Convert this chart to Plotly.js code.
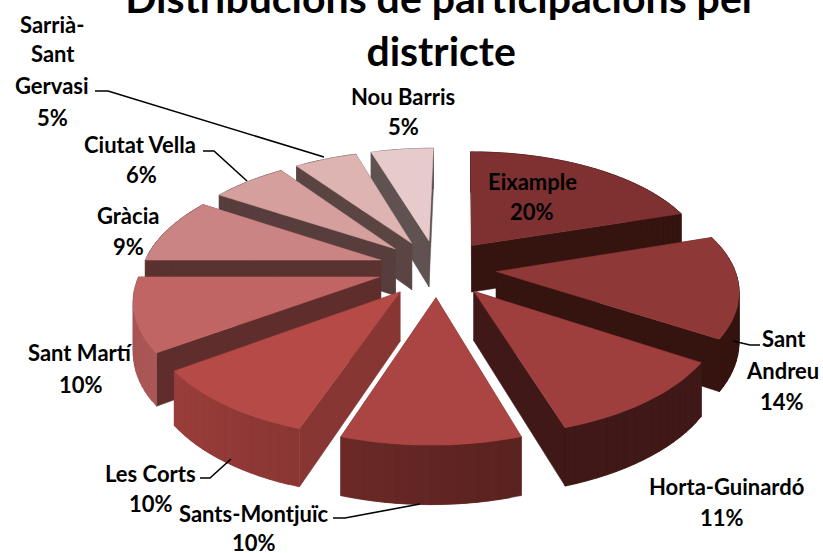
<!DOCTYPE html>
<html><head><meta charset="utf-8">
<script src="https://cdn.plot.ly/plotly-3.0.1.min.js"></script>
<style>html,body{margin:0;padding:0;background:#fff}</style></head>
<body><div id="chart" style="width:823px;height:553px"></div>
<script>
const districts=["Eixample","Sant Andreu","Horta-Guinardó","Sants-Montjuïc","Les Corts","Sant Martí","Gràcia","Ciutat Vella","Sarrià-Sant Gervasi","Nou Barris"];
const shares=[20,14,11,10,10,10,9,6,5,5];
const topColors=["#7f3031","#8f3838","#9e3f3e","#aa4543","#b54a47","#c16564","#cb8484","#d49f9d","#deb4b2","#e7caca"];
const wallColors=["#35130f","#35140f","#3f1817","#6e2a28","#873633","#5f2e2c","#5a3331","#573e3c","#5a4543","#5f5250"];
const arcFrom=["#35130f","#35140f","#3f1817","#5a2220","#8a3633","#aa5756","#5a3331","#573e3c","#5a4543","#5f5250"];
const arcTo=["#35130f","#35140f","#3f1817","#6a2927","#9a3e3b","#a85554","#5a3331","#573e3c","#5a4543","#5f5250"];
const drawOrder=[9,8,7,6,5,4,0,1,2,3];
const labelLines=[["Eixample",532,181],["20%",532,211],["Sant",784,338],["Andreu",782,370],["14%",782,401],
["Horta-Guinardó",726,486],["11%",722,517],["Sants-Montjuïc",254,513],["10%",254,542],["Les Corts",150,473],["10%",151,503],
["Sant Martí",80,352],["10%",81,384],["Gràcia",128,215],["9%",128,246],["Ciutat Vella",140,144],["6%",141,174],
["Sarrià-",52,24],["Sant",53,53],["Gervasi",52,85],["5%",52,117],["Nou Barris",403,96],["5%",403,126]];
const leaders=[[[95,91],[108,91],[324,157]],[[203,151],[214,151],[247,181]],[[733,341],[750,345],[760,345]],[[200,478],[210,478],[231,459]],[[333,518],[345,518],[420,504]]];

const cx=437,cy=268,Rx=238,Ry=114.5,persp=0.154,pull=0.25,depth=48,skew=4;
function project(px,py,low){const s=1/(1+persp*py);return [cx+(Rx*px+skew*py)*s,cy-Ry*py*s+(low?depth*s:0)];}
function hex(c){return [1,3,5].map(i=>parseInt(c.substr(i,2),16));}
function mix(a,b,t){const A=hex(a),B=hex(b);return "rgb("+A.map((v,i)=>Math.round(v+(B[i]-v)*t)).join(",")+")";}
function poly(pts,color){const c=pts.concat([pts[0]]);return {type:"scatter",mode:"lines",x:c.map(p=>p[0]),y:c.map(p=>p[1]),fill:"toself",fillcolor:color,
  line:{color:color,width:0.5},hoverinfo:"skip",showlegend:false};}
const total=shares.reduce((a,b)=>a+b,0);
let cum=0;const spans=shares.map(v=>{const a=cum/total*2*Math.PI;cum+=v;return [a,cum/total*2*Math.PI];});
const traces=[];
drawOrder.forEach(i=>{
  const [a0,a1]=spans[i],mid=(a0+a1)/2,ox=pull*Math.sin(mid),oy=pull*Math.cos(mid);
  const n=Math.max(4,Math.round((a1-a0)/0.04));
  const rim=[];for(let k=0;k<=n;k++){const a=a0+(a1-a0)*k/n;rim.push([ox+Math.sin(a),oy+Math.cos(a)]);}
  const apex=[ox,oy];
  const q=(p,r)=>[project(p[0],p[1],false),project(r[0],r[1],false),project(r[0],r[1],true),project(p[0],p[1],true)];
  traces.push(poly(q(apex,rim[0]),wallColors[i]));
  traces.push(poly(q(apex,rim[n]),wallColors[i]));
  for(let k=0;k<n;k++){traces.push(poly(q(rim[k],rim[Math.min(k+2,n)]),mix(arcFrom[i],arcTo[i],k/(n-1))));}
  traces.push(poly([apex,...rim].map(p=>project(p[0],p[1],false)),topColors[i]));
});
leaders.forEach(l=>traces.push({type:"scatter",mode:"lines",x:l.map(p=>p[0]),y:l.map(p=>p[1]),line:{color:"#000",width:1.6},hoverinfo:"skip",showlegend:false}));
const font="Lato, Carlito, 'Open Sans', sans-serif";
const annotations=labelLines.map(l=>({x:l[1],y:l[2],xref:"x",yref:"y",text:l[0],showarrow:false,xanchor:"center",yanchor:"middle",
  font:{family:font,size:22,color:"#000",weight:700}}));
Plotly.newPlot("chart",traces,{width:823,height:553,margin:{l:0,r:0,t:0,b:0},paper_bgcolor:"#fff",plot_bgcolor:"#fff",showlegend:false,
  title:{text:"Distribucions de participacions per<br>districte",x:0.536,xanchor:"center",y:0.977,yref:"container",yanchor:"top",
    font:{family:font,size:41,color:"#000",weight:700}},
  xaxis:{range:[0,823],visible:false,fixedrange:true},yaxis:{range:[553,0],visible:false,fixedrange:true},annotations},{displayModeBar:false,staticPlot:true});
</script></body></html>
